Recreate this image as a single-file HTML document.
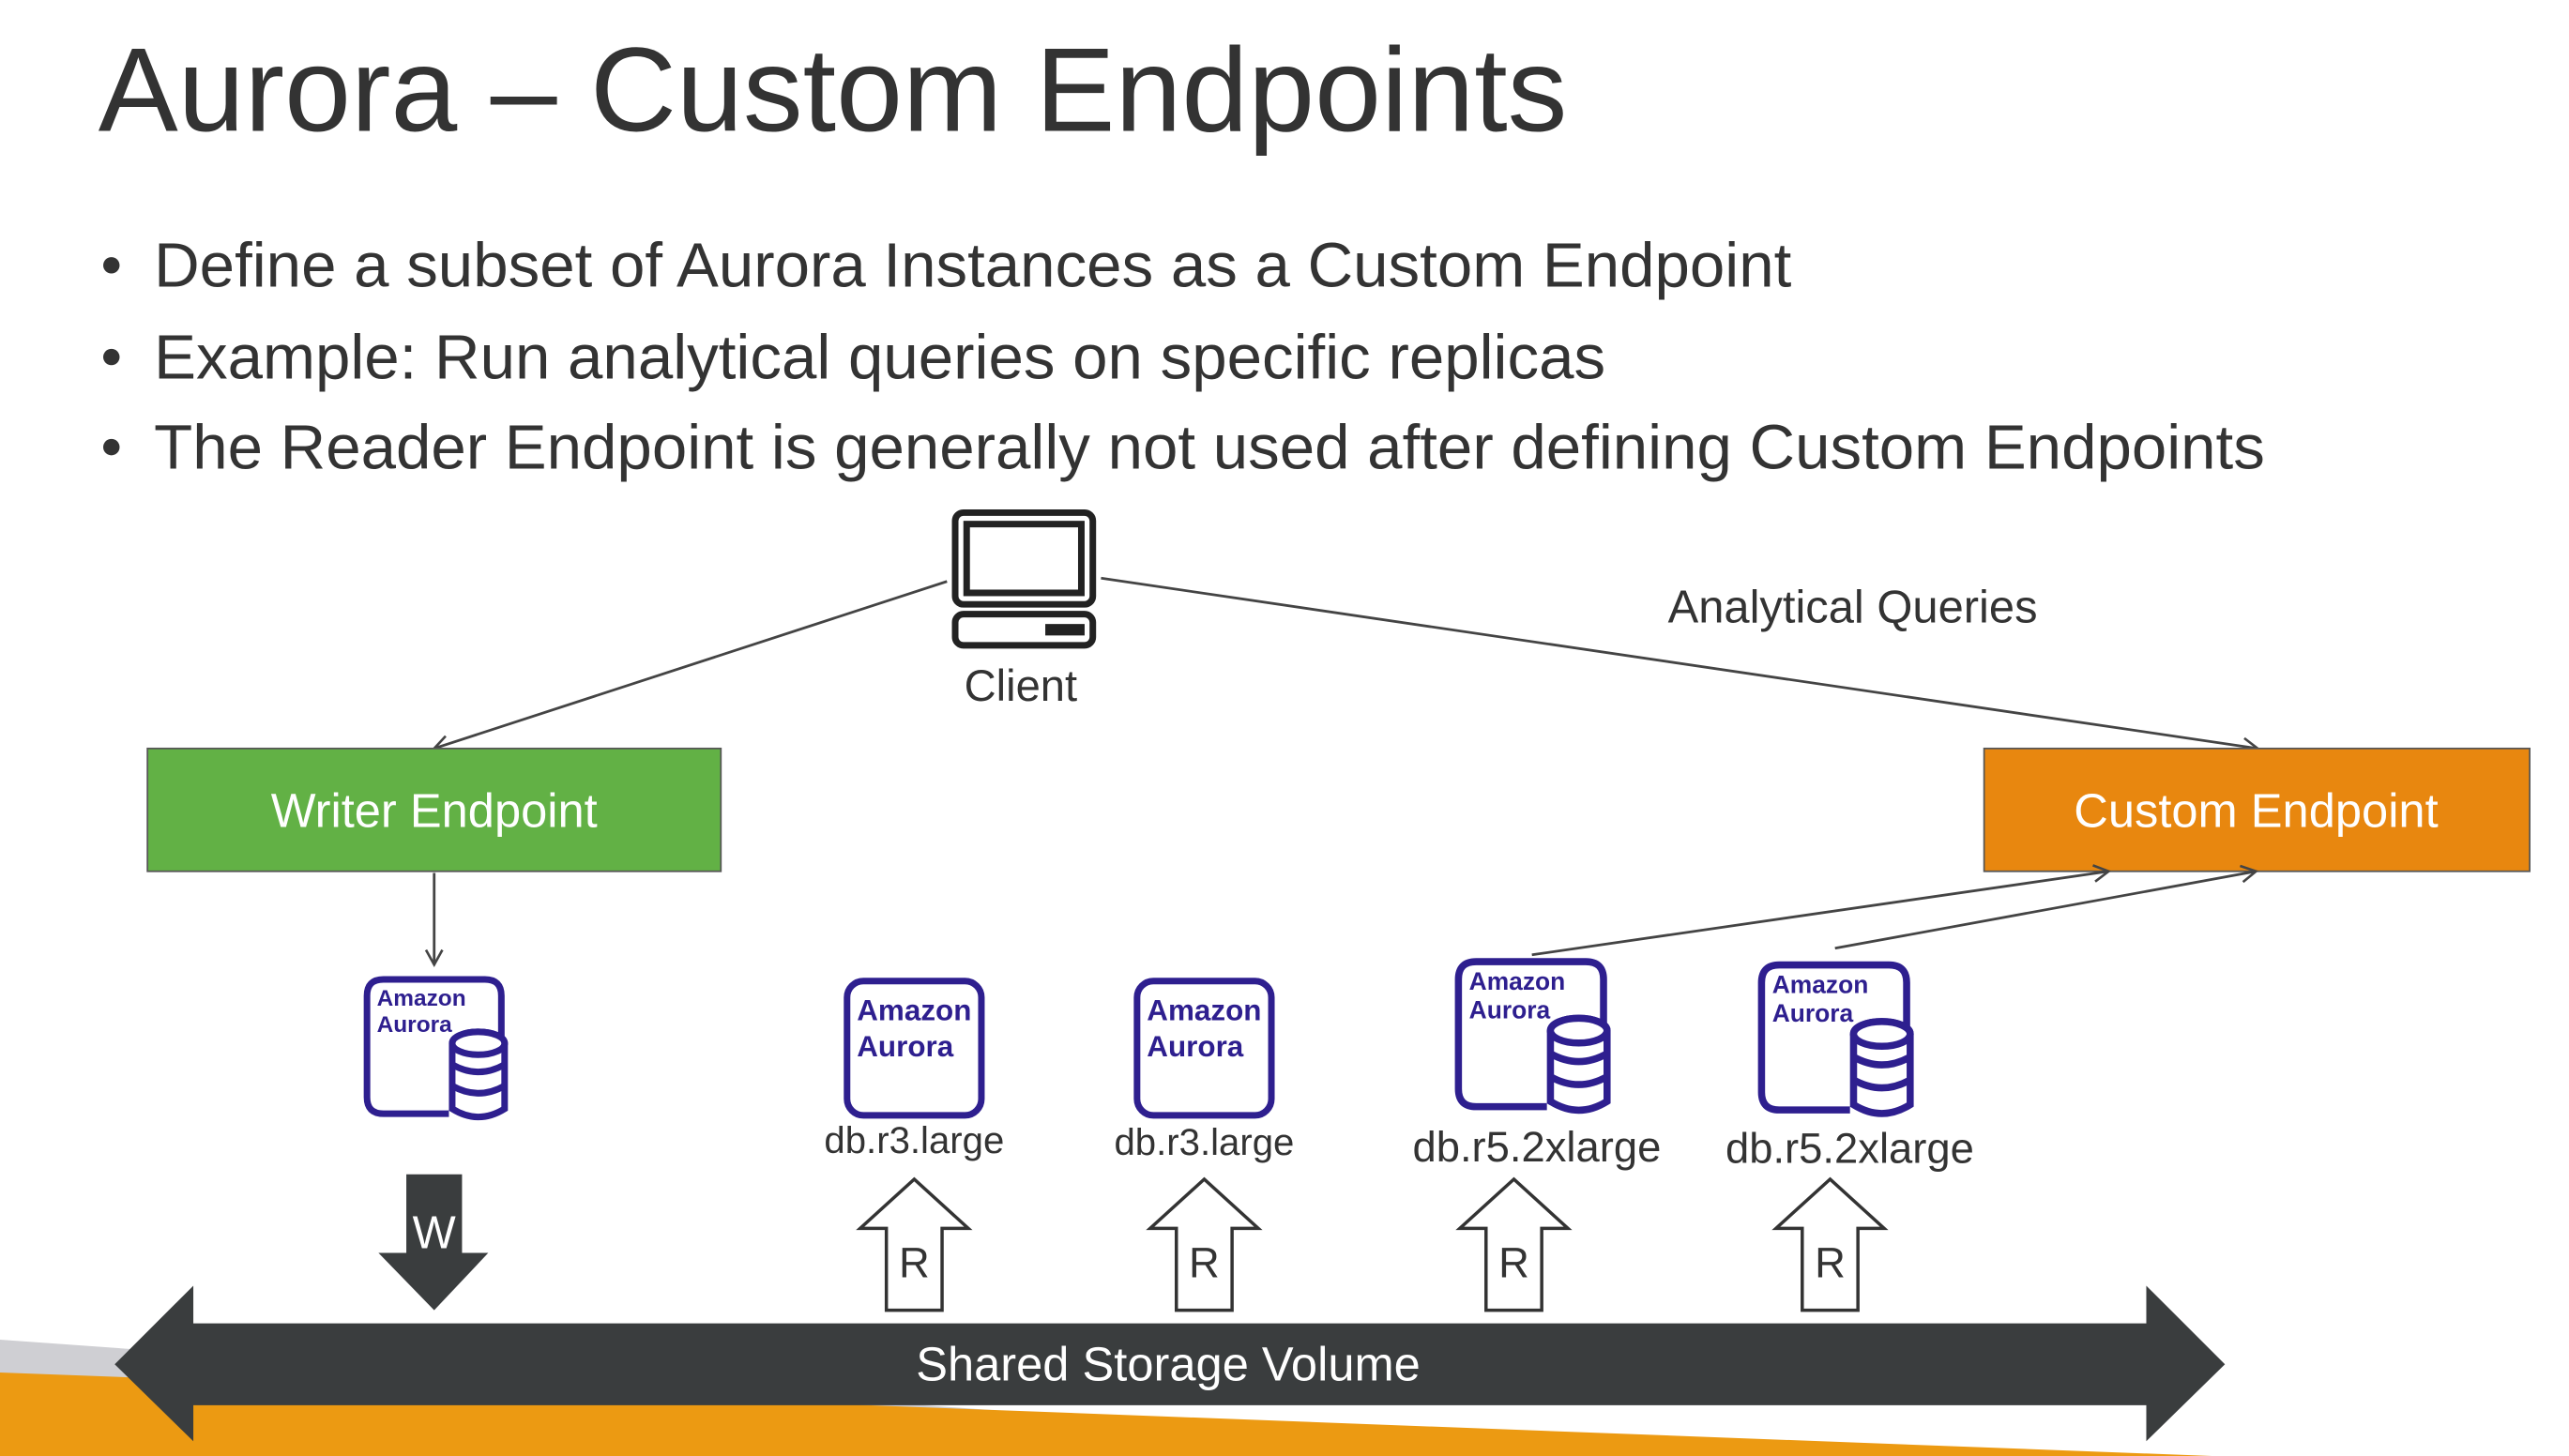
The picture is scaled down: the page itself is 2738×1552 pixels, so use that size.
<!DOCTYPE html>
<html><head><meta charset="utf-8"><style>
html,body{margin:0;padding:0;background:#fff;}
svg{display:block;width:2738px;height:1552px;}
text{font-family:"Liberation Sans",sans-serif;}
</style></head><body>
<svg viewBox="0 0 1568 889" preserveAspectRatio="none" xmlns="http://www.w3.org/2000/svg">
<defs>
<marker id="ah" markerWidth="12" markerHeight="12" refX="10" refY="6" orient="auto" markerUnits="userSpaceOnUse">
<path d="M1,1 L10,6 L1,11" fill="none" stroke="#444" stroke-width="1.5"/>
</marker>
<g id="aur">
<path d="M52,84 L12,84 Q2,84 2,74 L2,12 Q2,2 12,2 L74,2 Q84,2 84,12 L84,38" fill="none" stroke="#2e1f8f" stroke-width="4"/>
</g>
<g id="cyl">
<ellipse cx="0" cy="0" rx="16" ry="7" fill="#fff" stroke="#2e1f8f" stroke-width="4"/>
<path d="M-16,0 L-16,40 Q0,50 16,40 L16,0" fill="#fff" stroke="#2e1f8f" stroke-width="4"/>
<path d="M-16,13 Q0,22 16,13 M-16,26 Q0,35 16,26" fill="none" stroke="#2e1f8f" stroke-width="4"/>
<ellipse cx="0" cy="0" rx="16" ry="7" fill="#fff" stroke="#2e1f8f" stroke-width="4"/>
</g>
<g id="rarr">
<path d="M0,0 L33,30 L17,30 L17,80 L-17,80 L-17,30 L-33,30 Z" fill="#fff" stroke="#333" stroke-width="2"/>
<text x="0" y="60" font-size="26" text-anchor="middle" fill="#333">R</text>
</g>
</defs>

<polygon points="0,818 1000,889 0,889" fill="#cfcfd3"/>
<polygon points="0,838 1350,889 0,889" fill="#ec9a12"/>

<text x="60" y="80" font-size="73" fill="#333" font-weight="300">Aurora – Custom Endpoints</text>
<g font-size="38.5" fill="#333">
<circle cx="68" cy="162" r="5" fill="#333"/><text x="94" y="175">Define a subset of Aurora Instances as a Custom Endpoint</text>
<circle cx="68" cy="218" r="5" fill="#333"/><text x="94" y="231">Example: Run analytical queries on specific replicas</text>
<circle cx="68" cy="273" r="5" fill="#333"/><text x="94" y="286">The Reader Endpoint is generally not used after defining Custom Endpoints</text>
</g>

<rect x="583" y="313" width="84" height="56" rx="5" fill="none" stroke="#222" stroke-width="4"/>
<rect x="590" y="320" width="70" height="42" fill="none" stroke="#222" stroke-width="4"/>
<rect x="583" y="375" width="84" height="19" rx="5" fill="none" stroke="#222" stroke-width="4"/>
<rect x="638" y="381" width="24" height="7" fill="#222"/>
<text x="623" y="428" font-size="27" text-anchor="middle" fill="#333">Client</text>

<line x1="578" y1="355" x2="265" y2="457" stroke="#444" stroke-width="1.6" marker-end="url(#ah)"/>
<line x1="672" y1="353" x2="1378" y2="457" stroke="#444" stroke-width="1.6" marker-end="url(#ah)"/>
<text x="1018" y="380" font-size="28" fill="#333">Analytical Queries</text>

<rect x="90" y="457" width="350" height="75" fill="#62b145" stroke="#555" stroke-width="1"/>
<text x="265" y="505" font-size="29" fill="#fff" text-anchor="middle">Writer Endpoint</text>
<rect x="1211" y="457" width="333" height="75" fill="#e8870f" stroke="#555" stroke-width="1"/>
<text x="1377" y="505" font-size="29" fill="#fff" text-anchor="middle">Custom Endpoint</text>

<line x1="265" y1="533" x2="265" y2="589" stroke="#444" stroke-width="1.6" marker-end="url(#ah)"/>
<line x1="935" y1="583" x2="1287" y2="532" stroke="#444" stroke-width="1.6" marker-end="url(#ah)"/>
<line x1="1120" y1="579" x2="1377" y2="532" stroke="#444" stroke-width="1.6" marker-end="url(#ah)"/>

<g transform="translate(222,596)"><use href="#aur"/><use href="#cyl" x="70" y="41"/>
<text x="8" y="18" font-size="14" font-weight="bold" fill="#2e1f8f">Amazon</text><text x="8" y="34" font-size="14" font-weight="bold" fill="#2e1f8f">Aurora</text></g>
<g transform="translate(515,597)"><rect x="2" y="2" width="82" height="82" rx="10" fill="none" stroke="#2e1f8f" stroke-width="4"/>
<text x="8" y="26" font-size="18" font-weight="bold" fill="#2e1f8f">Amazon</text><text x="8" y="48" font-size="18" font-weight="bold" fill="#2e1f8f">Aurora</text></g>
<g transform="translate(692,597)"><rect x="2" y="2" width="82" height="82" rx="10" fill="none" stroke="#2e1f8f" stroke-width="4"/>
<text x="8" y="26" font-size="18" font-weight="bold" fill="#2e1f8f">Amazon</text><text x="8" y="48" font-size="18" font-weight="bold" fill="#2e1f8f">Aurora</text></g>
<g transform="translate(888,585) scale(1.08,1.08)"><use href="#aur"/><use href="#cyl" x="70" y="41"/>
<text x="8" y="18" font-size="14" font-weight="bold" fill="#2e1f8f">Amazon</text><text x="8" y="34" font-size="14" font-weight="bold" fill="#2e1f8f">Aurora</text></g>
<g transform="translate(1073,587) scale(1.08,1.08)"><use href="#aur"/><use href="#cyl" x="70" y="41"/>
<text x="8" y="18" font-size="14" font-weight="bold" fill="#2e1f8f">Amazon</text><text x="8" y="34" font-size="14" font-weight="bold" fill="#2e1f8f">Aurora</text></g>

<g font-size="23" fill="#333" text-anchor="middle">
<text x="558" y="704">db.r3.large</text><text x="735" y="705">db.r3.large</text>
</g>
<g font-size="26" fill="#333" text-anchor="middle">
<text x="938" y="709">db.r5.2xlarge</text><text x="1129" y="710">db.r5.2xlarge</text>
</g>

<use href="#rarr" x="558" y="720"/>
<use href="#rarr" x="735" y="720"/>
<use href="#rarr" x="924" y="720"/>
<use href="#rarr" x="1117" y="720"/>

<path d="M248,717 L282,717 L282,765 L298,765 L265,800 L231,765 L248,765 Z" fill="#3a3d3e"/>
<text x="265" y="762" font-size="28" fill="#fff" text-anchor="middle">W</text>

<path d="M70,833 L118,785 L118,808 L1310,808 L1310,785 L1358,833 L1310,880 L1310,858 L118,858 L118,880 Z" fill="#3a3d3e"/>
<text x="713" y="843" font-size="29" fill="#fff" text-anchor="middle">Shared Storage Volume</text>
</svg>
</body></html>
